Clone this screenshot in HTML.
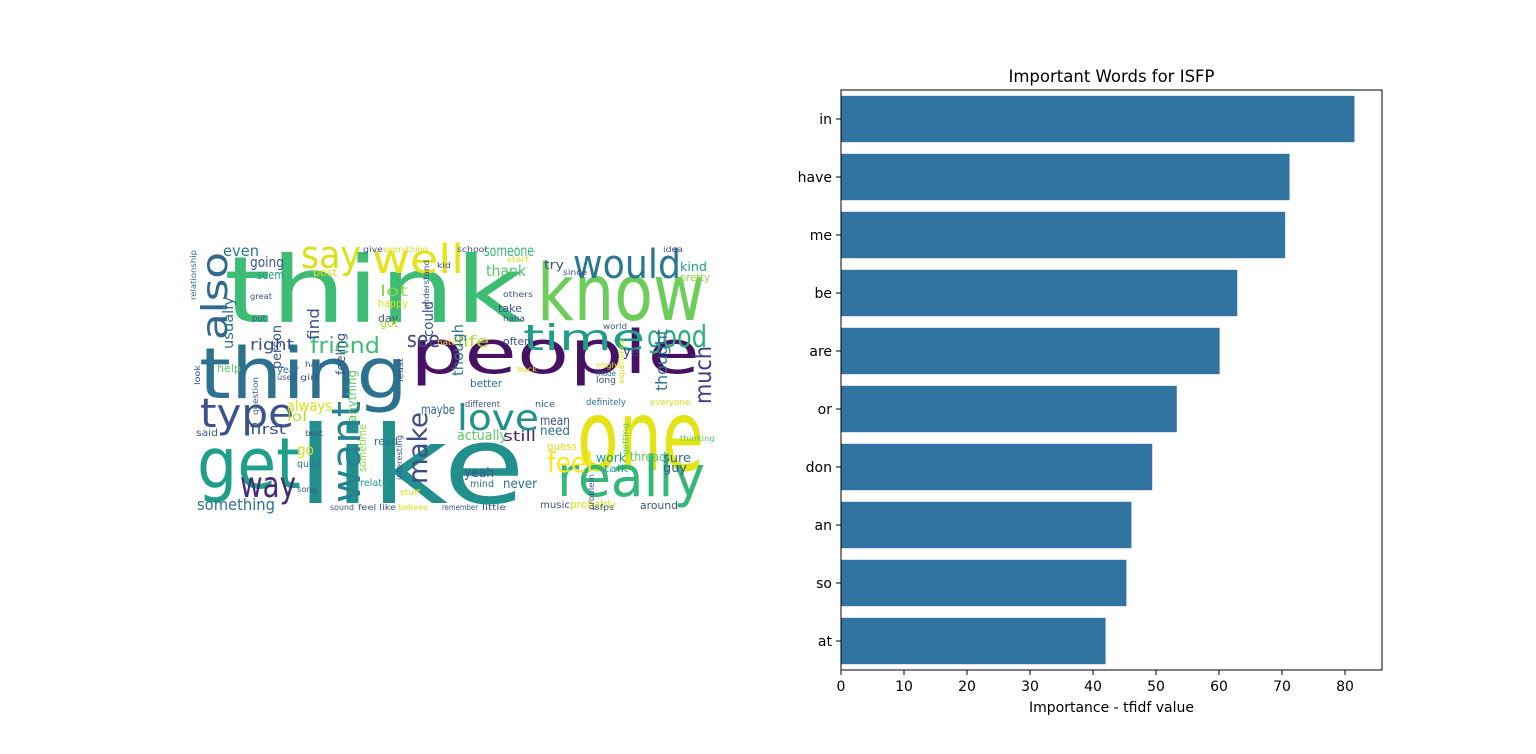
<!DOCTYPE html>
<html><head><meta charset="utf-8"><style>
html,body{margin:0;padding:0;background:#fff;}
svg{display:block;}
</style></head><body>
<svg id="fig" width="1536" height="754" viewBox="0 0 1536 754" xmlns="http://www.w3.org/2000/svg">
<rect width="1536" height="754" fill="#fff"/>
<g id="cloud" font-family="'DejaVu Sans', sans-serif"></g>
<g id="chart" font-family="'DejaVu Sans', 'Liberation Sans', sans-serif"></g>
</svg>
<script>
// ---- bar chart data ----
const words = ["in","have","me","be","are","or","don","an","so","at"];
const values = [81.5,71.2,70.5,62.9,60.1,53.3,49.4,46.1,45.3,42.0];
const xTicks = [0,10,20,30,40,50,60,70,80];
const chartTitle = "Important Words for ISFP";
const xLabel = "Importance - tfidf value";

// ---- word cloud data: [word, x, baseline, size, width, color, rotate] ----
const cloudWords = [
 ["think",224,322,92,300,"#3dbc74",0],
 ["like",297,503,108,228,"#21908d",0],
 ["people",410,373,60,290,"#471164",0],
 ["thing",199,398,70,209,"#2c728e",0],
 ["get",197,488,70,104,"#1f9e89",0],
 ["one",577,470,98,127,"#e2e418",0],
 ["know",537,320,78,168,"#6ccd5a",0],
 ["really",557,496,56,148,"#35b779",0],
 ["would",573,278,40,108,"#2a788e",0],
 ["say",301,268,38,60,"#d8e219",0],
 ["well",372,273,40,92,"#e5e419",0],
 ["time",523,350,36,122,"#1f9e89",0],
 ["good",647,347,30,60,"#29af7f",0],
 ["type",200,427,40,94,"#3b528b",0],
 ["love",457,430,36,82,"#21918c",0],
 ["way",240,497,36,56,"#482878",0],
 ["feel",547,472,28,46,"#fde725",0],
 ["friend",310,353,22,70,"#3dbc74",0],
 ["see",407,347,22,33,"#404688",0],
 ["something",197,510,16,78,"#2c728e",0],
 ["even",223,256,15,36,"#2c728e",0],
 ["going",250,267,14,34,"#3b528b",0],
 ["someone",484,256,15,50,"#35b779",0],
 ["thank",486,276,15,40,"#52c569",0],
 ["right",250,350,16,44,"#3b528b",0],
 ["always",287,411,15,45,"#d8e219",0],
 ["lol",287,421,13,20,"#b5de2b",0],
 ["first",250,434,14,36,"#3b528b",0],
 ["go",297,455,15,17,"#d2e21b",0],
 ["actually",457,440,14,50,"#5ec962",0],
 ["still",503,441,14,33,"#482878",0],
 ["mean",540,425,13,30,"#3b528b",0],
 ["need",540,435,13,30,"#2c728e",0],
 ["maybe",421,414,13,34,"#31688e",0],
 ["yeah",464,477,13,30,"#3b528b",0],
 ["never",503,488,13,34,"#2c728e",0],
 ["work",596,462,12,30,"#1f9e89",0],
 ["thread",630,461,12,36,"#5ec962",0],
 ["sure",663,462,12,28,"#2c728e",0],
 ["guy",663,472,12,24,"#3b528b",0],
 ["life",457,347,16,32,"#b5de2b",0],
 ["kind",680,271,12,27,"#1f9e89",0],
 ["try",544,269,12,20,"#3b528b",0],
 ["lot",380,296,15,28,"#8fd744",0],
 ["ye",623,356,13,16,"#443983",0],
 ["pretty",680,281,11,30,"#8fd744",0],
 ["post",313,276,11,24,"#d8e219",0],
 ["seem",257,279,12,27,"#1f9e89",0],
 ["happy",378,307,11,30,"#d8e219",0],
 ["take",498,312,11,24,"#3b528b",0],
 ["day",378,322,11,20,"#3b528b",0],
 ["got",380,327,11,18,"#b5de2b",0],
 ["often",503,345,11,28,"#3b528b",0],
 ["help",217,372,11,24,"#5ec962",0],
 ["year",277,373,10,22,"#2c728e",0],
 ["better",470,387,11,32,"#2c728e",0],
 ["read",374,445,11,24,"#2c728e",0],
 ["guess",547,450,11,30,"#d8e219",0],
 ["talk",604,472,10,24,"#1f9e89",0],
 ["music",540,508,10,30,"#3b528b",0],
 ["probably",570,508,11,46,"#d8e219",0],
 ["around",640,509,11,38,"#3b528b",0],
 ["said",196,436,10,22,"#3b528b",0],
 ["quite",297,467,10,24,"#2c728e",0],
 ["relate",360,486,10,28,"#1f9e89",0],
 ["mind",470,487,10,24,"#2c728e",0],
 ["definitely",586,405,9,40,"#2c728e",0],
 ["everyone",650,405,9,40,"#d8e219",0],
 ["thinking",680,441,8,35,"#5ec962",0],
 ["nice",535,407,9,20,"#3b528b",0],
 ["different",465,407,9,35,"#3b528b",0],
 ["long",596,383,9,20,"#3b528b",0],
 ["made",596,376,8,20,"#2c728e",0],
 ["might",596,368,8,24,"#d8e219",0],
 ["hate",437,345,8,20,"#d8e219",0],
 ["others",503,297,8,30,"#3b528b",0],
 ["haha",503,321,8,22,"#3b528b",0],
 ["since",563,275,8,24,"#3b528b",0],
 ["start",507,262,8,22,"#d8e219",0],
 ["school",457,252,8,30,"#3b528b",0],
 ["everything",383,252,8,45,"#d8e219",0],
 ["give",363,252,8,20,"#3b528b",0],
 ["idea",663,252,8,20,"#3b528b",0],
 ["kid",437,268,8,14,"#3b528b",0],
 ["great",250,299,8,22,"#3b528b",0],
 ["put",252,321,8,14,"#3b528b",0],
 ["used",277,380,8,20,"#3b528b",0],
 ["girl",300,380,8,18,"#3b528b",0],
 ["hard",305,367,8,20,"#3b528b",0],
 ["best",305,436,8,18,"#3b528b",0],
 ["song",297,492,8,20,"#3b528b",0],
 ["sound",330,510,8,24,"#3b528b",0],
 ["feel like",358,510,8,38,"#3b528b",0],
 ["believe",398,510,8,30,"#d8e219",0],
 ["remember",442,510,8,36,"#3b528b",0],
 ["little",482,510,8,24,"#3b528b",0],
 ["stuff",400,495,8,20,"#d8e219",0],
 ["back",517,372,8,20,"#d8e219",0],
 ["world",603,329,8,24,"#3b528b",0],
 ["isfps",592,510,8,22,"#3b528b",0],
 ["also",227,340,36,88,"#31688e",-90],
 ["want",360,503,40,102,"#26828e",-90],
 ["make",427,484,27,72,"#3e4a89",-90],
 ["much",711,404,23,58,"#443983",-90],
 ["thought",667,391,16,62,"#2c728e",-90],
 ["though",463,376,15,52,"#2c728e",-90],
 ["could",433,337,14,36,"#3b528b",-90],
 ["find",319,340,16,32,"#3b528b",-90],
 ["usually",233,349,14,52,"#2c728e",-90],
 ["person",281,369,13,44,"#3b528b",-90],
 ["feeling",345,375,12,42,"#3b528b",-90],
 ["anything",356,422,12,52,"#5ec962",-90],
 ["sometime",366,472,11,48,"#8fd744",-90],
 ["relationship",196,300,8,50,"#2c728e",-90],
 ["look",200,385,8,20,"#3b528b",-90],
 ["question",258,415,8,38,"#3b528b",-90],
 ["interesting",402,480,8,45,"#3b528b",-90],
 ["experience",624,384,8,45,"#d8e219",-90],
 ["getting",628,455,8,32,"#5ec962",-90],
 ["understand",429,310,8,50,"#3b528b",-90],
 ["least",403,382,8,24,"#3b528b",-90],
 ["problem",594,510,8,36,"#3b528b",-90]
];

const NS = "http://www.w3.org/2000/svg";
const cloud = document.getElementById('cloud');
cloudWords.forEach(w => {
  const t = document.createElementNS(NS,'text');
  
  
  t.setAttribute('x', w[1]); t.setAttribute('y', w[2]);
  t.setAttribute('font-size', w[3]);
  t.setAttribute('fill', w[5]);
  t.setAttribute('textLength', w[4]);
  t.setAttribute('lengthAdjust', 'spacingAndGlyphs');
  if (w[6]) t.setAttribute('transform', `rotate(${w[6]} ${w[1]} ${w[2]})`);
  t.textContent = w[0];
  cloud.appendChild(t);
});

// ---- chart ----
const chart = document.getElementById('chart');
const L=841, R=1382, T=90, B=670;
const xMax = (R-L)/6.3;
const xs = v => L + v/xMax*(R-L);
const band = (B-T)/words.length;
const yc = i => T + band*(i+0.5);
function el(tag, attrs, text){
  const e=document.createElementNS(NS,tag);
  for(const k in attrs) e.setAttribute(k, attrs[k]);
  if(text!==undefined) e.textContent=text;
  chart.appendChild(e); return e;
}
words.forEach((w,i)=>{
  const r = el('rect',{x:L,y:yc(i)-band*0.4,width:xs(values[i])-L,height:band*0.8,fill:'#3274a1'});
  
  
  const tk = el('line',{x1:L-5,x2:L,y1:yc(i),y2:yc(i),stroke:'#000','stroke-width':1});
  
  
  const lb = el('text',{x:L-9,y:yc(i)+5,'font-size':14,'text-anchor':'end',fill:'#000'}, w);
  
  
});
xTicks.forEach(v=>{
  const tk = el('line',{x1:xs(v),x2:xs(v),y1:B,y2:B+5,stroke:'#000','stroke-width':1});
  
  
  const lb = el('text',{x:xs(v),y:B+21,'font-size':14,'text-anchor':'middle',fill:'#000'}, String(v));
  
  
});
const frame = el('rect',{x:L,y:T,width:R-L,height:B-T,fill:'none',stroke:'#000','stroke-width':1});


const title = el('text',{x:(L+R)/2,y:T-8,'font-size':16.5,'text-anchor':'middle',fill:'#000'}, chartTitle);


const xl = el('text',{x:(L+R)/2,y:B+42,'font-size':14,'text-anchor':'middle',fill:'#000'}, xLabel);


</script>
</body></html>
